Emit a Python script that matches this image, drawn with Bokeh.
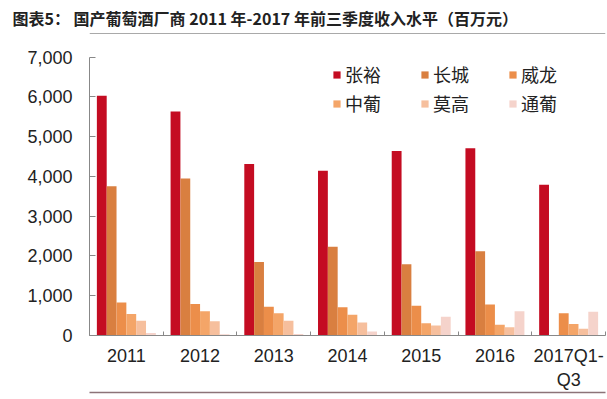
from bokeh.plotting import figure
from bokeh.models import (Range1d, FixedTicker, NumeralTickFormatter, Legend, LegendItem,
                          Title, LinearAxis, BoxAnnotation, ColumnDataSource)
from bokeh.embed import file_html
from bokeh.resources import INLINE

categories = ["2011", "2012", "2013", "2014", "2015", "2016", "2017Q1-\nQ3"]
series_names = ["张裕", "长城", "威龙", "中葡", "莫高", "通葡"]
zhangyu = [6030, 5630, 4310, 4140, 4640, 4710, 3790]
changcheng = [3750, 3950, 1850, 2230, 1790, 2120, 0]
weilong = [830, 790, 720, 710, 750, 780, 560]
zhongpu = [540, 610, 560, 520, 310, 270, 290]
mogao = [370, 360, 370, 330, 250, 210, 170]
tongpu = [60, 30, 40, 100, 470, 610, 600]
series_values = [zhangyu, changcheng, weilong, zhongpu, mogao, tongpu]
colors = ["#C40C22", "#D97F40", "#EC8E4A", "#F4A568", "#F6BF9D", "#F5D3CB"]
y_ticks = [0, 1000, 2000, 3000, 4000, 5000, 6000, 7000]
y_max = 7000

title_text = "图表5：  国产葡萄酒厂商 2011 年-2017 年前三季度收入水平（百万元）"

n = len(categories)
centers = [i + 0.5 for i in range(n)]
bar_w = 0.8 / len(series_names)

# frame reaches up to the title rule; the y axis itself stops at y_max
frame_top_px, axis_top_px, frame_bottom_px = 32, 55.7, 335
frame_h = frame_bottom_px - frame_top_px
y_end = y_max * frame_h / (frame_bottom_px - axis_top_px)

p = figure(width=607, height=399, output_backend="svg", toolbar_location=None,
           x_range=Range1d(0, n), y_range=Range1d(0, y_end),
           min_border_left=89, min_border_right=2, min_border_top=frame_top_px,
           min_border_bottom=399 - frame_bottom_px)
p.title = Title(text=title_text, text_font="Noto Sans CJK SC", text_font_style="bold",
                text_font_size="16px", align="left", offset=-77, text_color="#222222",
                standoff=7)
p.outline_line_color = None
p.grid.visible = False
p.background_fill_color = "white"

renderers = []
for j, (name, vals, col) in enumerate(zip(series_names, series_values, colors)):
    xs = [c + (j - (len(series_names) - 1) / 2) * bar_w for c in centers]
    src = ColumnDataSource(dict(x=xs, top=vals))
    r = p.vbar(x="x", top="top", width=bar_w, source=src, fill_color=col, line_color=None)
    renderers.append((name, r))

# legend fills column-major; order items so that rows read 张裕 长城 威龙 / 中葡 莫高 通葡
order = [0, 3, 1, 4, 2, 5]
items = [LegendItem(label=renderers[k][0], renderers=[renderers[k][1]]) for k in order]
legend = Legend(items=items, ncols=3, location=(243, 219), border_line_color=None,
                background_fill_alpha=0, glyph_width=9, glyph_height=9,
                label_text_font="Noto Sans CJK SC", label_text_font_size="18px",
                label_text_color="#222222", label_standoff=4, label_width=72,
                label_height=20, spacing=3, padding=0, margin=0)
p.add_layout(legend)

xa = p.xaxis[0]
xa.ticker = FixedTicker(ticks=centers, minor_ticks=list(range(n + 1)))
xa.major_label_overrides = {c: lab for c, lab in zip(centers, categories)}
xa.major_tick_in = 0
xa.major_tick_out = 0
xa.minor_tick_in = 4
xa.minor_tick_out = 0
xa.minor_tick_line_color = "#888888"
xa.axis_line_color = "#888888"
xa.major_label_text_font = "Liberation Sans"
xa.major_label_text_font_size = "18px"
xa.major_label_text_color = "#222222"
xa.major_label_standoff = 10

ya = p.yaxis[0]
ya.ticker = FixedTicker(ticks=y_ticks)
ya.bounds = (0, y_max)
ya.formatter = NumeralTickFormatter(format="0,0")
ya.major_tick_in = 6
ya.major_tick_out = 0
ya.minor_tick_line_color = None
ya.major_tick_line_color = "#888888"
ya.axis_line_color = "#888888"
ya.major_label_text_font = "Liberation Sans"
ya.major_label_text_font_size = "18px"
ya.major_label_text_color = "#222222"
ya.major_label_standoff = 17

# rule under the title: a thin band along the top edge of the frame
p.add_layout(BoxAnnotation(top=frame_h - 0.2, bottom=frame_h - 1.6, top_units="screen",
                           bottom_units="screen", fill_color="#555555", fill_alpha=1,
                           line_color=None))


def blank_axis(line_color, tick_out):
    return LinearAxis(ticker=FixedTicker(ticks=[]), axis_line_color=line_color,
                      axis_line_width=1.3, major_tick_in=0, major_tick_out=tick_out,
                      minor_tick_in=0, minor_tick_out=0, major_label_standoff=0,
                      major_tick_line_color=None, minor_tick_line_color=None)


# spacer below the category labels, then the foot rule
p.add_layout(blank_axis(None, 24), "below")
p.add_layout(blank_axis("#8c7378", 0), "below")

open("out.html", "w").write(file_html(p, INLINE))
